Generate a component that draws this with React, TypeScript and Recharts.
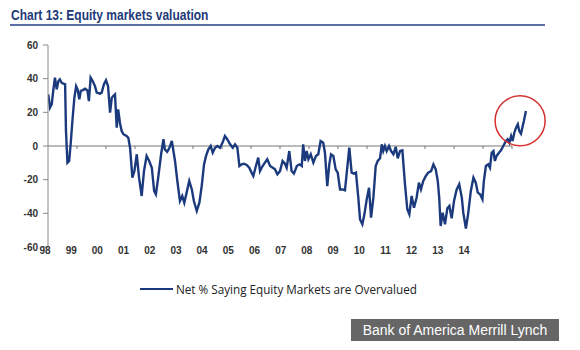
import React from 'react';
import { LineChart, Line, XAxis, YAxis, ReferenceLine, ReferenceDot, Legend } from 'recharts';

// Dates as decimal years
const dates = [
  1998.01, 1998.07, 1998.13, 1998.18, 1998.24, 1998.30, 1998.36, 1998.41, 1998.47, 1998.53,
  1998.59, 1998.62, 1998.67, 1998.73, 1998.78, 1998.85, 1998.91, 1998.97, 1999.02, 1999.08,
  1999.13, 1999.20, 1999.28, 1999.36, 1999.41, 1999.47, 1999.54, 1999.62, 1999.68, 1999.79,
  1999.85, 1999.93, 2000.00, 2000.07, 2000.14, 2000.20, 2000.25, 2000.31, 2000.37, 2000.42,
  2000.48, 2000.54, 2000.60, 2000.71, 2000.77, 2000.83, 2000.91, 2000.98, 2001.06, 2001.14,
  2001.23, 2001.31, 2001.40, 2001.49, 2001.58, 2001.66, 2001.72, 2001.80, 2001.90, 2001.98,
  2002.03, 2002.11, 2002.18, 2002.27, 2002.38, 2002.46, 2002.55, 2002.63, 2002.70, 2002.78,
  2002.87, 2002.96, 2003.03, 2003.13, 2003.22, 2003.30, 2003.38, 2003.45, 2003.53, 2003.61,
  2003.68, 2003.76, 2003.84, 2003.93, 2004.02, 2004.10, 2004.18, 2004.28, 2004.37, 2004.45,
  2004.53, 2004.60, 2004.68, 2004.76, 2004.85, 2004.94, 2005.02, 2005.08, 2005.17, 2005.25,
  2005.31, 2005.40, 2005.48, 2005.56, 2005.66, 2005.75, 2005.83, 2005.91, 2006.00, 2006.09,
  2006.17, 2006.23, 2006.32, 2006.40, 2006.48, 2006.58, 2006.67, 2006.75, 2006.80, 2006.86,
  2006.92, 2006.98, 2007.06, 2007.15, 2007.24, 2007.32, 2007.40, 2007.49, 2007.55, 2007.63,
  2007.70, 2007.76, 2007.84, 2007.92, 2007.99, 2008.07, 2008.16, 2008.24, 2008.32, 2008.39,
  2008.47, 2008.55, 2008.62, 2008.70, 2008.76, 2008.84, 2008.91, 2008.99, 2009.07, 2009.14,
  2009.22, 2009.30, 2009.37, 2009.45, 2009.51, 2009.56, 2009.62, 2009.68, 2009.76, 2009.83,
  2009.91, 2009.99, 2010.06, 2010.14, 2010.22, 2010.31, 2010.39, 2010.46, 2010.54, 2010.62,
  2010.71, 2010.79, 2010.86, 2010.94, 2011.03, 2011.11, 2011.21, 2011.29, 2011.37, 2011.44,
  2011.49, 2011.54, 2011.61, 2011.69, 2011.77, 2011.84, 2011.92, 2012.00, 2012.09, 2012.18,
  2012.27, 2012.32, 2012.41, 2012.49, 2012.58, 2012.67, 2012.75, 2012.82, 2012.90, 2012.98,
  2013.03, 2013.10, 2013.18, 2013.24, 2013.30, 2013.36, 2013.41, 2013.47, 2013.55, 2013.62,
  2013.70, 2013.79, 2013.85, 2013.91, 2013.97, 2014.02, 2014.08, 2014.14, 2014.20, 2014.25,
  2014.31, 2014.37, 2014.41, 2014.48,
];

// Net % saying equity markets are overvalued
const netPct = [
  30.7, 22.8, 24.8, 32.7, 40.6, 33.7, 38.6, 39.6, 37.6, 37,
  36.7, 9, -9.9, -8.9, 1, 16.8, 28.7, 35.6, 33.7, 27.7,
  32.7, 33.2, 34, 33, 26.7, 40.6, 38.6, 35.6, 31.7, 31.1,
  31.7, 36.7, 39, 35.6, 19.8, 28.7, 29.7, 30.7, 10.9, 21.8,
  13.8, 8.9, 7, 5.9, 4.9, -1, -18.8, -14.9, -4.9, -18.8,
  -29.7, -14.9, -5.9, -8.9, -12.9, -26.7, -28.7, -18.8, -4.9, 4,
  -2, -3.4, -1.4, 3, -8.9, -20.8, -32.7, -29.7, -33.7, -27.7,
  -20.8, -25.8, -32.7, -38.6, -33.7, -23.8, -10.9, -5.9, -2, 0,
  -4, -1, 0, -1, 2, 5.9, 4, 1, -1, 1,
  -1, -11.9, -10.9, -10.5, -11.3, -12.9, -15.8, -17.8, -11.9, -6.9,
  -14.9, -11.9, -9.9, -7.9, -11.9, -12.9, -13.9, -16.8, -14.9, -8.9,
  -10.5, -12.9, -3, -14.9, -16.4, -11.9, -10.9, -11.9, 1, -8.9,
  -3, -7.9, -4.9, -9.9, -5.9, -4.9, 3, 2, -4, -23.8,
  -10.9, -4.9, -5.9, -13.9, -15.8, -25.8, -25.8, -26.3, -12.9, -1,
  -15.8, -16.4, -15.8, -30.7, -43.6, -46.5, -40.6, -31.7, -24.8, -42.6,
  -30.7, -11.9, -8.9, -7.3, 1, -3, 0, -3, 0, -3,
  -4.9, -0.6, -7.3, -3, -2.6, -22.8, -37.6, -40.6, -29.7, -36.7,
  -30.7, -21.8, -25.8, -20.8, -17.8, -15.8, -14.9, -10.9, -13.9, -20.8,
  -30.7, -47.5, -39.6, -46.5, -37, -35.6, -43, -32.7, -26, -22.8,
  -30.7, -39.6, -49, -40, -26.7, -18.8, -21.8, -27.7, -28.7, -31.7,
  -20.8, -11.9, -10.9, -12.9, -4, -3, -8.9, -5.9, -4, -2.6,
  0, 3, 4, 2, 5.9, 3, 7.9, 10.9, 12.9, 8.9,
  7.3, 11.9, 14.9, 20.8,
];

const yTicks = [-60, -40, -20, 0, 20, 40, 60];
const labelYears = [1998, 1999, 2000, 2001, 2002, 2003, 2004, 2005, 2006, 2007, 2008, 2009, 2010, 2011, 2012, 2013, 2014];
const yearLabels = ['98', '99', '00', '01', '02', '03', '04', '05', '06', '07', '08', '09', '10', '11', '12', '13', '14'];
const zeroTickYears = [1999, 2000, 2001, 2002, 2003, 2004, 2005, 2006, 2007, 2008, 2009, 2010, 2011, 2012, 2013, 2014];
const highlight = { date: 2014.28, value: 15 };
const seriesName = 'Net % Saying Equity Markets are Overvalued';

const data = dates.map((d, i) => ({ date: d, net: netPct[i] }));

const renderLegend = (props: any) => {
  const { payload } = props;
  return (
    <div style={{ display: 'flex', alignItems: 'center' }}>
      {(payload || []).map((e: any) => (
        <div key={e.value} style={{ display: 'flex', alignItems: 'center' }}>
          <svg width={33} height={4} style={{ display: 'block' }}>
            <line x1={0} y1={2} x2={33} y2={2} stroke={e.color} strokeWidth={2.2} />
          </svg>
          <span style={{ marginLeft: 3, fontFamily: "'Open Sans', sans-serif", fontSize: 11.7, color: '#222', whiteSpace: 'nowrap' }}>
            {e.value}
          </span>
        </div>
      ))}
    </div>
  );
};

export default function App() {
  return (
    <div style={{ position: 'absolute', left: 0, top: 0, width: 580, height: 350, background: '#fff', overflow: 'hidden' }}>
      <div style={{ position: 'absolute', left: 11, top: 6, fontFamily: "'Liberation Sans', Arial, sans-serif", fontWeight: 'bold', fontSize: 15, color: '#1e3a78', whiteSpace: 'nowrap', lineHeight: '17px', transform: 'scaleX(0.8)', transformOrigin: 'left center' }}>
        Chart 13: Equity markets valuation
      </div>
      <div style={{ position: 'absolute', left: 10, top: 24, width: 535, height: 2, background: '#5b6ea5' }} />
      <div style={{ position: 'absolute', left: 0, top: 0 }}>
        <LineChart width={580} height={350} data={data} margin={{ top: 45, right: 39, bottom: 83, left: 0 }}>
          <XAxis xAxisId="t" dataKey="date" type="number" domain={[1998, 2015]} hide allowDataOverflow />
          <XAxis
            xAxisId="lbl"
            dataKey="date"
            type="number"
            domain={[1998, 2016.825]}
            ticks={labelYears}
            interval={0}
            allowDataOverflow
            tickFormatter={(v: number) => yearLabels[labelYears.indexOf(v)] ?? ''}
            axisLine={false}
            tickLine={false}
            tickSize={0}
            tickMargin={0}
            height={20}
            tick={{ fontSize: 10, fontWeight: 'bold', fill: '#333', fontFamily: 'Arial, Liberation Sans, sans-serif', dy: 0, dx: -3 }}
          />
          <YAxis
            domain={[-60, 60]}
            ticks={yTicks}
            interval={0}
            width={48}
            tickSize={5}
            tickMargin={5}
            axisLine={{ stroke: '#888' }}
            tickLine={{ stroke: '#888' }}
            tick={{ fontSize: 10, fontWeight: 'bold', fill: '#333', fontFamily: 'Arial, Liberation Sans, sans-serif' }}
          />
          <ReferenceLine xAxisId="t" segment={[{ x: 1998, y: 0 }, { x: 2014, y: 0 }]} stroke="#777" strokeWidth={1} />
          {zeroTickYears.map((yr) => (
            <ReferenceLine key={yr} xAxisId="t" segment={[{ x: yr, y: 0 }, { x: yr, y: -1.8 }]} stroke="#777" strokeWidth={1} />
          ))}
          <Line
            xAxisId="t"
            dataKey="net"
            name={seriesName}
            type="linear"
            stroke="#1b3a7d"
            strokeWidth={2.4}
            dot={false}
            isAnimationActive={false}
          />
          <ReferenceDot xAxisId="t" x={highlight.date} y={highlight.value} r={25} fill="none" stroke="#d63030" strokeWidth={1.5} />
          <Legend
            layout="horizontal"
            verticalAlign="middle"
            align="center"
            content={renderLegend}
            wrapperStyle={{ top: 281, left: 140, width: 320 }}
          />
        </LineChart>
      </div>
      <div style={{ position: 'absolute', left: 351, top: 319, width: 208, height: 22, background: '#666', color: '#fff', fontFamily: "Arial, 'Liberation Sans', sans-serif", fontSize: 14, lineHeight: '22px', textAlign: 'center', whiteSpace: 'nowrap' }}>
        Bank of America Merrill Lynch
      </div>
    </div>
  );
}
